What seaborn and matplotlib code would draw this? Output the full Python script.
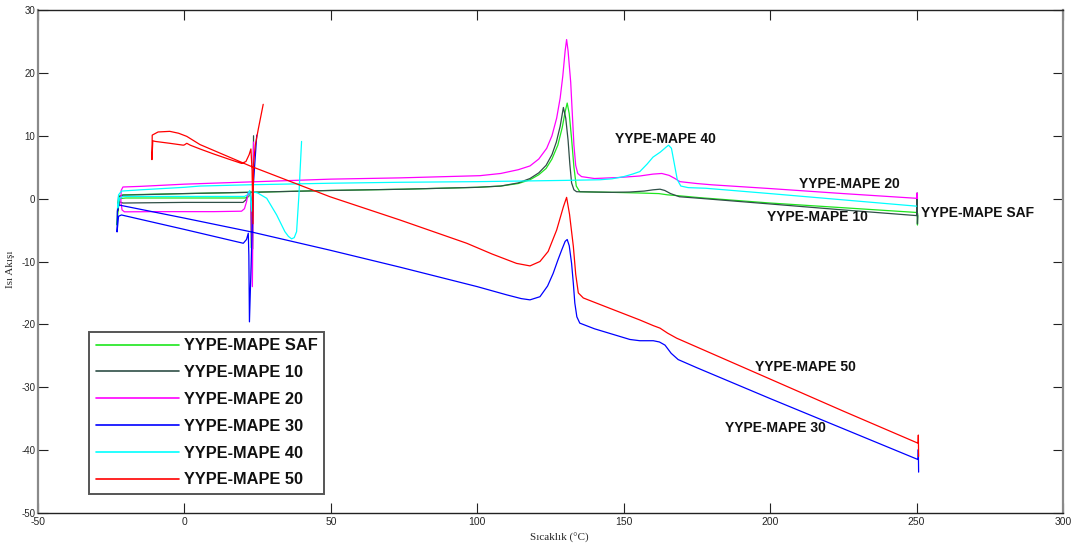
import matplotlib
matplotlib.use("Agg")
import matplotlib.pyplot as plt
from matplotlib import font_manager
import seaborn as sns
import pandas as pd

# ---- DSC heat-flow curves (temperature in degC, heat flow) ----
saf_t = [22.8, 22.6, 22.4, 21.6, 20.5, 0.0, -20.0, -22.0, -22.6, -23.0, -22.8, -22.3, -21.0,
         0.0, 22.0, 50.0, 75.0, 100.0, 108.0, 114.0, 118.0, 121.0, 123.5, 125.5, 127.5, 129.0,
         130.0, 130.7, 131.4, 132.2, 133.0, 133.8, 135.0, 140.0, 146.0, 155.0, 162.0, 165.0,
         169.0, 176.0, 200.0, 225.0, 250.0, 250.2, 250.3, 250.4]
saf_q = [-7.8, 1.1, 0.6, 0.2, 0.1, 0.1, 0.1, 0.0, -1.5, -4.2, -1.0, 0.4, 0.6,
         0.8, 1.0, 1.3, 1.5, 1.8, 2.0, 2.4, 3.0, 3.8, 4.8, 6.3, 8.5, 11.3,
         13.8, 15.2, 13.5, 9.5, 5.0, 2.0, 1.1, 1.05, 1.0, 0.9, 0.8, 0.6,
         0.45, 0.15, -0.7, -1.45, -2.2, -1.5, -4.2, -2.4]

m10_t = [23.6, 23.3, 22.9, 22.3, 21.8, 21.0, 20.0, 0.0, -21.0, -22.2, -22.8, -22.5, -21.0,
         0.0, 22.0, 50.0, 75.0, 100.0, 108.0, 114.0, 118.0, 121.0, 123.5, 125.5, 127.0, 128.3,
         129.4, 130.2, 131.0, 131.6, 132.2, 133.0, 133.9, 140.0, 146.0, 152.0, 157.0, 160.0,
         162.4, 164.0, 166.0, 169.0, 176.0, 200.0, 225.0, 250.0, 250.2, 250.3, 250.4]
m10_q = [10.0, -8.0, -0.3, 0.9, 0.8, -0.2, -0.6, -0.6, -0.7, -0.5, -2.0, 0.3, 0.55,
         0.8, 1.0, 1.3, 1.5, 1.8, 2.0, 2.5, 3.2, 4.1, 5.3, 7.0, 9.0, 11.5,
         14.5, 12.8, 9.3, 5.5, 2.5, 1.4, 1.1, 1.05, 1.0, 1.05, 1.2, 1.4,
         1.5, 1.3, 0.8, 0.3, 0.05, -0.85, -1.8, -2.7, 0.9, -4.0, -2.7]

m20_t = [23.6, 23.2, 22.6, 21.8, 21.2, 20.5, 19.5, 10.0, -10.0, -20.5, -21.3, -21.7, -21.6,
         -21.0, -15.0, 0.0, 22.0, 50.0, 73.6, 100.9, 108.0, 114.0, 118.0, 121.0, 123.7, 125.5,
         127.1, 128.3, 129.2, 130.0, 130.5, 131.0, 131.9, 132.5, 133.0, 133.6, 134.3, 135.6,
         140.0, 148.0, 155.5, 160.0, 163.0, 165.5, 167.5, 169.2, 175.0, 180.0, 200.0, 225.0,
         250.0, 250.2, 250.3]
m20_q = [9.0, -14.0, 0.5, 1.0, -0.5, -1.6, -2.0, -2.07, -2.07, -2.1, -1.8, -0.5, 1.3,
         1.85, 1.95, 2.3, 2.65, 3.1, 3.3, 3.65, 4.0, 4.6, 5.2, 6.3, 8.0, 10.0,
         12.8, 16.0, 19.5, 23.5, 25.3, 23.5, 18.5, 13.0, 8.5, 5.3, 4.0, 3.5,
         3.2, 3.35, 3.6, 3.9, 4.0, 3.7, 3.2, 2.7, 2.4, 2.2, 1.6, 0.8,
         0.05, 0.9, 0.0]

m30_t = [24.7, 23.5, 22.8, 22.2, 22.0, 21.8, 21.2, 20.1, 0.0, -21.5, -22.5, -23.0, -22.9,
         -22.5, 0.0, 22.4, 49.7, 73.6, 100.0, 110.0, 115.0, 118.0, 121.4, 124.0, 125.9, 127.5,
         128.8, 130.0, 130.7, 131.4, 132.2, 132.8, 133.3, 134.0, 135.0, 140.0, 152.1, 155.5,
         160.1, 162.2, 164.1, 166.2, 168.6, 175.0, 200.0, 225.0, 250.5, 250.6, 250.7]
m30_q = [10.1, 2.0, -10.0, -19.6, -9.0, -5.5, -6.5, -7.1, -4.9, -2.6, -2.8, -5.3, -2.0,
         -1.0, -3.1, -5.25, -8.2, -10.9, -14.0, -15.3, -15.9, -16.1, -15.6, -13.9, -11.9, -9.8,
         -8.2, -6.8, -6.5, -7.5, -10.3, -13.5, -16.6, -18.8, -19.8, -20.7, -22.4, -22.6,
         -22.6, -22.8, -23.3, -24.6, -25.6, -26.9, -31.8, -36.6, -41.5, -39.9, -43.5]

m40_t = [40.0, 39.5, 39.1, 38.3, 37.5, 36.6, 35.5, 34.3, 31.5, 28.1, 25.0, 23.2, 23.0,
         22.3, 21.5, 20.5, 0.0, -21.0, -22.2, -22.8, -22.5, -21.5, -15.0, 0.0, 5.3, 22.0,
         50.0, 73.6, 100.0, 130.0, 141.9, 146.0, 150.0, 153.0, 155.5, 158.0, 160.0, 162.5,
         164.5, 165.3, 166.3, 167.3, 168.3, 169.5, 172.0, 178.0, 200.0, 225.0, 250.0]
m40_q = [9.1, 4.5, 0.6, -5.25, -6.2, -6.4, -6.0, -5.25, -2.6, 0.05, 0.9, 1.1, -2.0,
         1.3, 0.6, 0.35, 0.35, 0.35, 0.0, -1.5, 0.6, 1.2, 1.4, 1.8, 2.0, 2.2,
         2.45, 2.6, 2.7, 2.9, 3.0, 3.15, 3.5, 3.9, 4.3, 5.5, 6.6, 7.4,
         8.2, 8.5, 8.0, 5.5, 3.0, 2.0, 1.75, 1.65, 0.8, -0.2, -1.2]

m50_t = [26.9, 25.2, 24.2, 23.6, 23.4, 23.1, 22.7, 22.1, 21.0, 19.5, 15.0, 10.0, 5.3,
         2.0, 0.8, 0.0, -0.4, -5.0, -10.0, -10.8, -11.1, -11.0, -10.2, -9.0, -5.0, -2.0,
         0.8, 5.3, 22.4, 49.7, 73.6, 96.4, 105.0, 113.4, 118.0, 121.4, 124.2, 127.1,
         129.4, 130.5, 131.5, 132.8, 133.6, 134.5, 136.2, 145.0, 155.5, 160.1, 162.4, 165.0,
         168.1, 200.0, 225.0, 250.5, 250.6, 250.7]
m50_q = [15.0, 11.0, 8.5, 5.5, -4.0, 4.5, 7.9, 7.0, 5.9, 5.6, 6.3, 7.1, 7.9,
         8.5, 8.8, 8.55, 8.5, 8.8, 9.1, 9.2, 6.2, 10.1, 10.3, 10.6, 10.7, 10.4,
         9.9, 8.6, 5.2, 0.3, -3.4, -7.1, -8.8, -10.3, -10.7, -10.0, -8.4, -5.0,
         -1.3, 0.2, -2.5, -7.6, -12.0, -15.0, -15.8, -17.4, -19.3, -20.2, -20.6, -21.4,
         -22.2, -28.7, -33.8, -38.9, -37.6, -41.0]

series_names = ["YYPE-MAPE SAF", "YYPE-MAPE 10", "YYPE-MAPE 20",
                "YYPE-MAPE 30", "YYPE-MAPE 40", "YYPE-MAPE 50"]
series_colors = ["#1EE61E", "#2F4F47", "#FF00FF", "#0000FF", "#00FFFF", "#FF0000"]
series_data = [(saf_t, saf_q), (m10_t, m10_q), (m20_t, m20_q),
               (m30_t, m30_q), (m40_t, m40_q), (m50_t, m50_q)]

# curve labels placed next to the curves
label_text = ["YYPE-MAPE 40", "YYPE-MAPE 20", "YYPE-MAPE 10",
              "YYPE-MAPE SAF", "YYPE-MAPE 50", "YYPE-MAPE 30"]
label_x = [147.0, 209.8, 198.8, 251.5, 194.8, 184.5]
label_y = [9.5, 2.34, -2.9, -2.32, -26.8, -36.5]

x_ticks = [-50, 0, 50, 100, 150, 200, 250, 300]
y_ticks = [-50, -40, -30, -20, -10, 0, 10, 20, 30]

sns.set_style("white")
plt.rcParams["font.family"] = ["Liberation Sans", "DejaVu Sans"]

available = {f.name for f in font_manager.fontManager.ttflist}
narrow = "Liberation Sans Narrow" if "Liberation Sans Narrow" in available else "Liberation Sans"

fig = plt.figure(figsize=(10.86, 5.49), dpi=100)
ax = fig.add_axes([38 / 1086, 1 - 513 / 549, 1025 / 1086, 503 / 549])

frames = []
for name, (t, q) in zip(series_names, series_data):
    frames.append(pd.DataFrame({"Temp": t, "Heat": q, "Series": name, "Order": range(len(t))}))
df = pd.concat(frames, ignore_index=True)

for name, color in zip(series_names, series_colors):
    sub = df[df["Series"] == name]
    sns.lineplot(data=sub, x="Temp", y="Heat", sort=False, estimator=None,
                 color=color, lw=0.9, label=name, ax=ax)

ax.set_xlim(-50, 300)
ax.set_ylim(-50, 30)
ax.set_xticks(x_ticks)
ax.set_yticks(y_ticks)
ax.set_xticklabels([str(v) for v in x_ticks], fontsize=7.5, family=narrow)
ax.set_yticklabels([str(v) for v in y_ticks], fontsize=7, family="Liberation Sans")
ax.tick_params(axis="both", direction="in", length=7, width=0.8, color="#222222",
               top=True, right=True, bottom=True, left=True)
ax.tick_params(axis="y", pad=2)
ax.tick_params(axis="x", pad=3)

for side in ["left", "right"]:
    ax.spines[side].set_color("#8a8a8a")
    ax.spines[side].set_linewidth(1.6)
for side in ["top", "bottom"]:
    ax.spines[side].set_color("#222222")
    ax.spines[side].set_linewidth(1.0)

ax.set_xlabel("Sıcaklık (°C)", fontsize=8, family="Liberation Serif", labelpad=4)
ax.xaxis.set_label_coords(0.509, -0.04)
ax.set_ylabel("Isı Akışı", fontsize=8, family="Liberation Serif")
ax.yaxis.set_label_coords(-0.022, 0.485)

for txt, lx, ly in zip(label_text, label_x, label_y):
    ax.text(lx, ly, txt, fontsize=10, fontweight="bold", family="Liberation Sans",
            color="#111111", ha="left", va="center")

leg = ax.legend(loc="lower left", bbox_to_anchor=(0.0498, 0.0378), borderaxespad=0,
                frameon=True, fancybox=False, shadow=False, borderpad=0.4,
                handlelength=5.1, handletextpad=0.3, labelspacing=0.72,
                prop={"family": "Liberation Sans", "weight": "bold", "size": 11.8})
leg.get_frame().set_edgecolor("#555555")
leg.get_frame().set_linewidth(1.4)
leg.get_frame().set_facecolor("white")
leg.get_frame().set_alpha(1.0)
for text in leg.get_texts():
    text.set_color("#111111")
for line in leg.get_lines():
    line.set_linewidth(1.2)

fig.savefig("out.png", dpi=100, facecolor="white")
